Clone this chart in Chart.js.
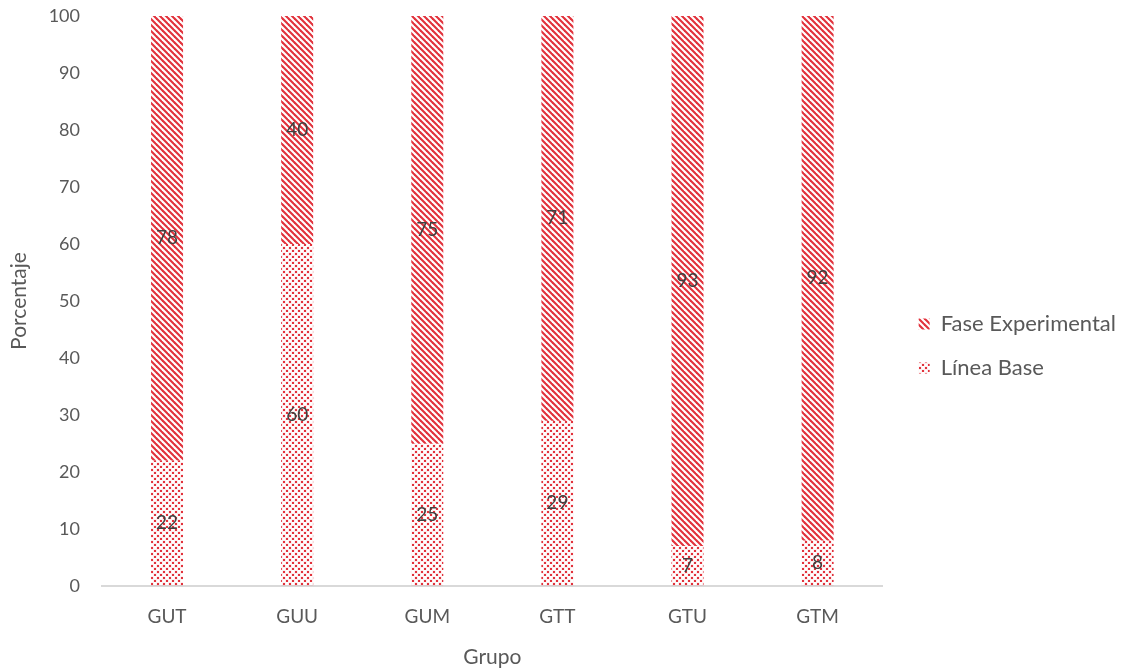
<!DOCTYPE html>
<html>
<head>
<meta charset="utf-8">
<script src="https://cdn.jsdelivr.net/npm/chart.js@4.4.1/dist/chart.umd.min.js"></script>
<style>
  html, body { margin: 0; padding: 0; background: #ffffff; }
  #wrap { width: 1127px; height: 671px; }
</style>
</head>
<body>
<div id="wrap"><canvas id="c" width="1127" height="671"></canvas></div>
<script>
// Groups and percentage shares per phase
const grupos = ['GUT', 'GUU', 'GUM', 'GTT', 'GTU', 'GTM'];
const lineaBase = [22, 60, 25, 29, 7, 8];
const faseExperimental = [78, 40, 75, 71, 93, 92];
const yTicks = [0, 10, 20, 30, 40, 50, 60, 70, 80, 90, 100];

const RED = '#e2323c';
const TEXT = '#595959';
const FONT = 'Lato, "Open Sans", sans-serif';

// Diagonal-stripe fill ("\" direction)
function stripePattern() {
  const t = document.createElement('canvas');
  t.width = 6; t.height = 6;
  const g = t.getContext('2d');
  g.strokeStyle = RED;
  g.lineWidth = 2.1;
  for (let k = -2; k <= 2; k++) {
    g.beginPath();
    g.moveTo(k * 6 - 2, -2);
    g.lineTo(k * 6 + 8, 8);
    g.stroke();
  }
  return g.createPattern(t, 'repeat');
}

// Staggered dot fill
function dotPattern() {
  const t = document.createElement('canvas');
  t.width = 6; t.height = 6;
  const g = t.getContext('2d');
  g.fillStyle = 'rgba(226,50,60,0.18)';
  g.fillRect(0.5, 0.5, 3, 3);
  g.fillRect(3.5, 3.5, 3, 3);
  g.fillRect(-2.5, 3.5, 3, 3);
  g.fillStyle = RED;
  g.fillRect(1, 1, 2, 2);
  g.fillRect(4, 4, 2, 2);
  return g.createPattern(t, 'repeat');
}

// Value written at the middle of each stacked segment
const segmentLabels = {
  id: 'segmentLabels',
  afterDatasetsDraw(chart) {
    const ctx = chart.ctx;
    ctx.save();
    ctx.font = '19px ' + FONT;
    ctx.fillStyle = '#404040';
    ctx.textAlign = 'center';
    ctx.textBaseline = 'middle';
    chart.data.datasets.forEach((ds, i) => {
      const meta = chart.getDatasetMeta(i);
      meta.data.forEach((bar, j) => {
        const y = (bar.y + bar.base) / 2;
        ctx.fillText(String(ds.data[j]), bar.x, y);
      });
    });
    ctx.restore();
  }
};

// Nudge the legend a little to the right of the plot
const legendShift = {
  id: 'legendShift',
  afterLayout(chart) {
    const lg = chart.legend;
    if (lg) { lg.left += 14; lg.right += 14; }
  }
};

new Chart(document.getElementById('c'), {
  type: 'bar',
  data: {
    labels: grupos,
    datasets: [
      { label: 'Línea Base', data: lineaBase, backgroundColor: dotPattern(), borderWidth: 0 },
      { label: 'Fase Experimental', data: faseExperimental, backgroundColor: stripePattern(), borderWidth: 0 }
    ]
  },
  plugins: [segmentLabels, legendShift],
  options: {
    responsive: false,
    animation: false,
    devicePixelRatio: 1,
    layout: { padding: { top: 16, right: 15, bottom: 0, left: 0 } },
    datasets: { bar: { categoryPercentage: 1, barPercentage: 0.246 } },
    scales: {
      x: {
        stacked: true,
        grid: { display: false, drawTicks: false },
        border: { display: true, color: '#d9d9d9', width: 2 },
        ticks: { color: TEXT, font: { family: FONT, size: 19 }, padding: 19 },
        title: { display: true, text: 'Grupo', color: TEXT, font: { family: FONT, size: 21 }, padding: { top: 0, bottom: 1 } },
        afterFit(s) { s.height = 85; }
      },
      y: {
        stacked: true,
        min: 0, max: 100,
        afterBuildTicks(s) { s.ticks = yTicks.map(v => ({ value: v })); },
        grid: { display: false, drawTicks: false },
        border: { display: false },
        ticks: { color: TEXT, font: { family: FONT, size: 18 }, padding: 22 },
        title: { display: true, text: 'Porcentaje', color: TEXT, font: { family: FONT, size: 21 }, padding: { top: 7, bottom: 0 } },
        afterFit(s) { s.width = 102; s.paddingTop = 10; s.paddingBottom = 10; }
      }
    },
    plugins: {
      tooltip: { enabled: false },
      legend: {
        position: 'right',
        reverse: true,
        title: { display: true, text: '', font: { size: 5, lineHeight: 1 }, padding: 0 },
        labels: {
          color: TEXT,
          font: { family: FONT, size: 22 },
          boxWidth: 11, boxHeight: 11,
          padding: 22
        }
      }
    }
  }
});
</script>
</body>
</html>
